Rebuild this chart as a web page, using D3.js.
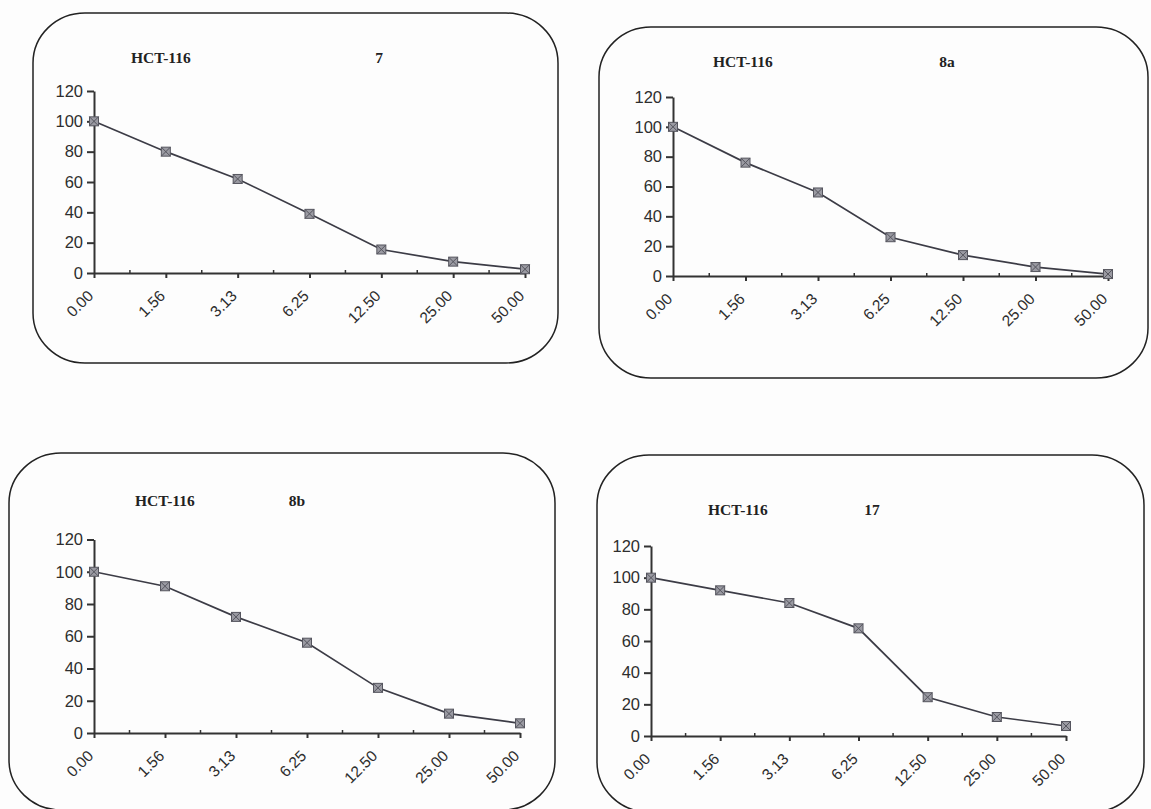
<!DOCTYPE html>
<html>
<head>
<meta charset="utf-8">
<script src="https://cdn.jsdelivr.net/npm/d3@7"></script>
<style>
    body { margin: 0; background: #fdfdfd; }
    .tick text { font-family: "Liberation Sans", Arial, sans-serif; fill: #2e2e2e; }
</style>
</head>
<body>
<div id="chart"></div>
<script>
// data
const doses = ["0.00", "1.56", "3.13", "6.25", "12.50", "25.00", "50.00"];
const yTicks = [0, 20, 40, 60, 80, 100, 120];
const cellLine = "HCT-116";
const compounds = ["7", "8a", "8b", "17"];
const values7 = [100, 80, 62, 39, 15.5, 7.5, 2.5];
const values8a = [100, 76, 56, 26, 14, 6, 1.3];
const values8b = [100, 91, 72, 56, 28, 12, 6];
const values17 = [100, 92, 84, 68, 24.5, 12, 6.3];
const seriesList = [values7, values8a, values8b, values17];

// where each panel sits on the page
const layouts = [
    {box: [33, 13, 525, 350], plot: [94, 525, 91, 273], title: [131, 63], label: 379},
    {box: [599, 27, 549, 351], plot: [673, 1108, 97, 276], title: [713, 67], label: 947},
    {box: [9, 453, 546, 357], plot: [94, 520, 539.5, 733], title: [135, 506], label: 297},
    {box: [597, 455, 547, 357], plot: [651, 1066, 546, 736], title: [708, 515], label: 872}
];

const svg = d3.select("#chart").append("svg")
    .attr("width", 1151)
    .attr("height", 809);

function drawPanel(i) {
    let lay = layouts[i];
    let values = seriesList[i];
    let g = svg.append("g").attr("class", "panel");

    // rounded frame
    g.append("rect")
        .attr("x", lay.box[0]).attr("y", lay.box[1])
        .attr("width", lay.box[2]).attr("height", lay.box[3])
        .attr("rx", 52).attr("ry", 50)
        .attr("fill", "none")
        .attr("stroke", "#222")
        .attr("stroke-width", 1.5);

    // titles
    g.append("text")
        .attr("x", lay.title[0]).attr("y", lay.title[1])
        .attr("font-family", "Liberation Serif, Times New Roman, serif")
        .attr("font-weight", "bold")
        .attr("font-size", 15.5)
        .attr("fill", "#222")
        .text(cellLine);
    g.append("text")
        .attr("x", lay.label).attr("y", lay.title[1])
        .attr("text-anchor", "middle")
        .attr("font-family", "Liberation Serif, Times New Roman, serif")
        .attr("font-weight", "bold")
        .attr("font-size", 15.5)
        .attr("fill", "#222")
        .text(compounds[i]);

    // scales
    let x = d3.scalePoint().domain(doses).range([lay.plot[0], lay.plot[1]]);
    let y = d3.scaleLinear().domain([0, 120]).range([lay.plot[3], lay.plot[2]]);

    // y axis
    let yAxis = g.append("g")
        .attr("transform", `translate(${lay.plot[0]},0)`)
        .call(d3.axisLeft(y).tickValues(yTicks).tickSize(7).tickSizeOuter(0).tickPadding(4));
    yAxis.selectAll("text").attr("font-size", 16.5);

    // x axis
    let xAxis = g.append("g")
        .attr("transform", `translate(0,${lay.plot[3]})`)
        .call(d3.axisBottom(x).tickSize(5).tickSizeOuter(0));
    xAxis.selectAll("text")
        .attr("font-size", 15.5)
        .attr("text-anchor", "end")
        .attr("transform", "translate(-8,16) rotate(-45)")
        .attr("x", 0)
        .attr("y", 0)
        .attr("dy", "0.71em");

    g.selectAll(".domain, .tick line")
        .attr("stroke", "#333")
        .attr("stroke-width", 2);

    // little ticks between categories
    let mids = doses.slice(1).map((d, k) => (x(doses[k]) + x(d)) / 2);
    g.selectAll(".minor")
        .data(mids)
        .enter().append("line")
        .attr("class", "minor")
        .attr("x1", d => d).attr("x2", d => d)
        .attr("y1", lay.plot[3] - 3).attr("y2", lay.plot[3])
        .attr("stroke", "#333")
        .attr("stroke-width", 1.5);

    // the curve
    let pts = doses.map((d, k) => ({dose: d, v: values[k]}));
    let line = d3.line()
        .x(d => x(d.dose))
        .y(d => y(d.v));
    g.append("path")
        .datum(pts)
        .attr("d", line)
        .attr("fill", "none")
        .attr("stroke", "#3c3c46")
        .attr("stroke-width", 1.7);

    // square markers with a cross
    let s = 4.5;
    let m = g.selectAll(".marker")
        .data(pts)
        .enter().append("g")
        .attr("class", "marker")
        .attr("transform", d => `translate(${x(d.dose)},${y(d.v)})`);
    m.append("rect")
        .attr("x", -s).attr("y", -s)
        .attr("width", 2 * s).attr("height", 2 * s)
        .attr("fill", "#9a9aa2")
        .attr("stroke", "#55555e")
        .attr("stroke-width", 1);
    m.append("path")
        .attr("d", `M${-s},${-s}L${s},${s}M${s},${-s}L${-s},${s}`)
        .attr("stroke", "#55555e")
        .attr("stroke-width", 1);
}

compounds.forEach((c, i) => drawPanel(i));
</script>
</body>
</html>
